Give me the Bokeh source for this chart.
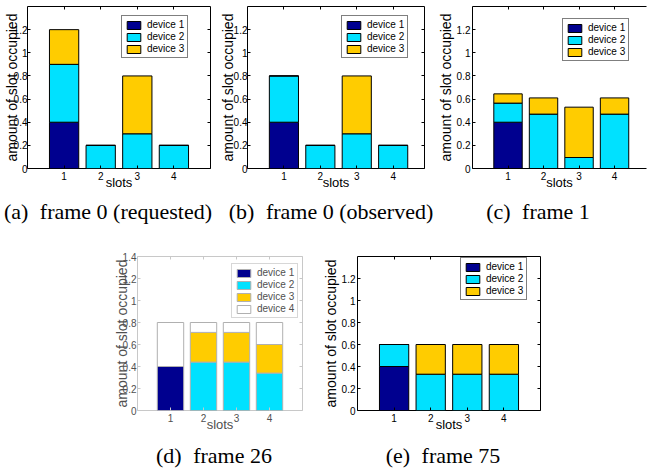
from bokeh.plotting import figure
from bokeh.models import (ColumnDataSource, FixedTicker, LinearAxis, Range1d, Div, Spacer,
                          CustomJSTickFormatter)
from bokeh.layouts import row, column
from bokeh.embed import file_html
from bokeh.resources import INLINE

# ---------------- data ----------------
SLOTS = [1, 2, 3, 4]
DEVICES = ["device 1", "device 2", "device 3", "device 4"]
Y_TICKS = [0, 0.2, 0.4, 0.6, 0.8, 1.0, 1.2]
Y_TICKS_D = [0, 0.2, 0.4, 0.6, 0.8, 1.0, 1.2, 1.4]

# (a) frame 0 (requested)
A_DEV1 = [0.4, 0.0, 0.0, 0.0]
A_DEV2 = [0.5, 0.2, 0.3, 0.2]
A_DEV3 = [0.3, 0.0, 0.5, 0.0]
# (b) frame 0 (observed)
B_DEV1 = [0.4, 0.0, 0.0, 0.0]
B_DEV2 = [0.4, 0.2, 0.3, 0.2]
B_DEV3 = [0.0, 0.0, 0.5, 0.0]
# (c) frame 1
C_DEV1 = [0.4, 0.0, 0.0, 0.0]
C_DEV2 = [0.165, 0.47, 0.095, 0.47]
C_DEV3 = [0.08, 0.14, 0.435, 0.14]
# (d) frame 26
D_DEV1 = [0.4, 0.0, 0.0, 0.0]
D_DEV2 = [0.0, 0.44, 0.44, 0.34]
D_DEV3 = [0.0, 0.27, 0.27, 0.26]
D_DEV4 = [0.4, 0.09, 0.09, 0.2]
# (e) frame 75
E_DEV1 = [0.4, 0.0, 0.0, 0.0]
E_DEV2 = [0.2, 0.33, 0.33, 0.33]
E_DEV3 = [0.0, 0.27, 0.27, 0.27]

CAPTIONS = ["(a)", "frame 0 (requested)", "(b)", "frame 0 (observed)",
            "(c)", "frame 1", "(d)", "frame 26", "(e)", "frame 75"]

COLORS = ["#00008F", "#00E1FF", "#FFCC00", "#FFFFFF"]
SANS = "Liberation Sans"
SERIF = "Liberation Serif"


def make_panel(devs, W, H, bl, br, bt, bb, x_end, yticks, leg_loc,
               ylab_standoff, ytick_standoff, gray=False, open_right=False):
    p = figure(width=W, height=H, x_range=Range1d(0, x_end), y_range=Range1d(0, 1.4),
               output_backend="svg", toolbar_location=None,
               min_border_left=bl, min_border_right=br, min_border_top=bt,
               min_border_bottom=bb, background_fill_color="white",
               border_fill_color="white")
    p.grid.visible = False
    axc = "#c8c8c8" if gray else "black"
    txc = "#505050" if gray else "black"
    n = len(devs)
    data = {"x": SLOTS}
    keys = []
    for i, d in enumerate(devs):
        data["d%d" % i] = d
        keys.append("d%d" % i)
    src = ColumnDataSource(data)
    p.vbar_stack(keys, x="x", width=0.8, source=src,
                 fill_color=COLORS[:n], line_color="#b0b0b0" if gray else "black",
                 line_width=1, legend_label=DEVICES[:n])

    p.xaxis.ticker = FixedTicker(ticks=SLOTS)
    p.yaxis.ticker = FixedTicker(ticks=yticks)
    for ax in (p.xaxis[0], p.yaxis[0]):
        ax.major_tick_in = 3
        ax.major_tick_out = 0
        ax.minor_tick_line_color = None
        ax.major_tick_line_color = axc
        ax.axis_line_color = axc if open_right else None
        ax.major_label_text_font = SANS
        ax.major_label_text_color = txc
        ax.major_label_text_font_size = "10px"
        ax.axis_label_text_font = SANS
        ax.axis_label_text_font_style = "normal"
        ax.axis_label_text_color = txc
    p.xaxis.axis_label = "slots"
    p.xaxis.axis_label_text_font_size = "13px"
    p.xaxis.major_label_standoff = 3
    p.xaxis.axis_label_standoff = -8
    p.yaxis.axis_label = "amount of slot occupied"
    p.yaxis.axis_label_text_font_size = "14px"
    p.yaxis.major_label_standoff = ytick_standoff
    p.yaxis.axis_label_standoff = ylab_standoff

    blank = CustomJSTickFormatter(code="return ''")
    top = LinearAxis(ticker=FixedTicker(ticks=SLOTS), formatter=blank,
                     major_tick_in=3, major_tick_out=0, minor_tick_line_color=None,
                     axis_line_color=axc if open_right else None,
                     major_tick_line_color=axc, major_label_standoff=0)
    p.add_layout(top, "above")
    if not open_right:
        right = LinearAxis(ticker=FixedTicker(ticks=yticks), formatter=blank,
                           major_tick_in=3, major_tick_out=0, minor_tick_line_color=None,
                           axis_line_color=None, major_tick_line_color=axc,
                           major_label_standoff=0)
        p.add_layout(right, "right")
        p.outline_line_color = axc
        p.outline_line_width = 1
        p.outline_line_alpha = 1
    else:
        p.outline_line_color = None

    lg = p.legend[0]
    lg.location = leg_loc
    lg.label_text_font = SANS
    lg.label_text_font_size = "10px"
    lg.label_text_color = txc
    lg.label_height = 11
    lg.glyph_height = 10
    lg.glyph_width = 17
    lg.label_standoff = 5
    lg.padding = 3
    lg.spacing = 1
    lg.margin = 0
    lg.border_line_color = "#b0b0b0" if gray else "black"
    lg.border_line_width = 1
    lg.background_fill_color = "white"
    lg.background_fill_alpha = 1
    return p


fa = make_panel([A_DEV1, A_DEV2, A_DEV3], 215, 192, 27, 5, 5, 23, 5.0, Y_TICKS,
                (94, 110), -9, 0)
fb = make_panel([B_DEV1, B_DEV2, B_DEV3], 215, 192, 32, 6, 5, 24, 4.86, Y_TICKS,
                (94, 110), -5, 0)
fc = make_panel([C_DEV1, C_DEV2, C_DEV3], 217, 192, 42, 1, 6, 24, 4.9, Y_TICKS,
                (90, 107), 0, 2, open_right=True)
fd = make_panel([D_DEV1, D_DEV2, D_DEV3, D_DEV4], 205, 208, 25, 13, 24, 28, 5.0, Y_TICKS_D,
                (94, 92), -10, 1, gray=True)
fe = make_panel([E_DEV1, E_DEV2, E_DEV3], 245, 208, 42, 20, 15, 30, 5.0, Y_TICKS,
                (103, 110), 0, 2)


def caption(tag, txt, w, h, pad):
    html = ("<div style=\"width:%dpx;font-family:'%s';font-size:22px;text-align:center;"
            "white-space:nowrap;line-height:26px;padding-top:%dpx;color:black\">"
            "<span style=\"margin-right:6px\">%s</span> %s</div>") % (w, SERIF, pad, tag, txt)
    return Div(text=html, width=w, height=h, margin=0)


cap_a = caption(CAPTIONS[0], CAPTIONS[1], 216, 40, 7)
cap_b = caption(CAPTIONS[2], CAPTIONS[3], 230, 40, 7)
cap_c = caption(CAPTIONS[4], CAPTIONS[5], 184, 40, 7)
cap_d = caption(CAPTIONS[6], CAPTIONS[7], 208, 30, 3)
cap_e = caption(CAPTIONS[8], CAPTIONS[9], 250, 30, 3)

layout = column(
    row(fa, fb, fc),
    row(cap_a, cap_b, cap_c),
    row(Spacer(width=110, height=208), fd, fe),
    row(Spacer(width=110, height=30), cap_d, cap_e),
)

open("out.html", "w").write(file_html(layout, INLINE))
